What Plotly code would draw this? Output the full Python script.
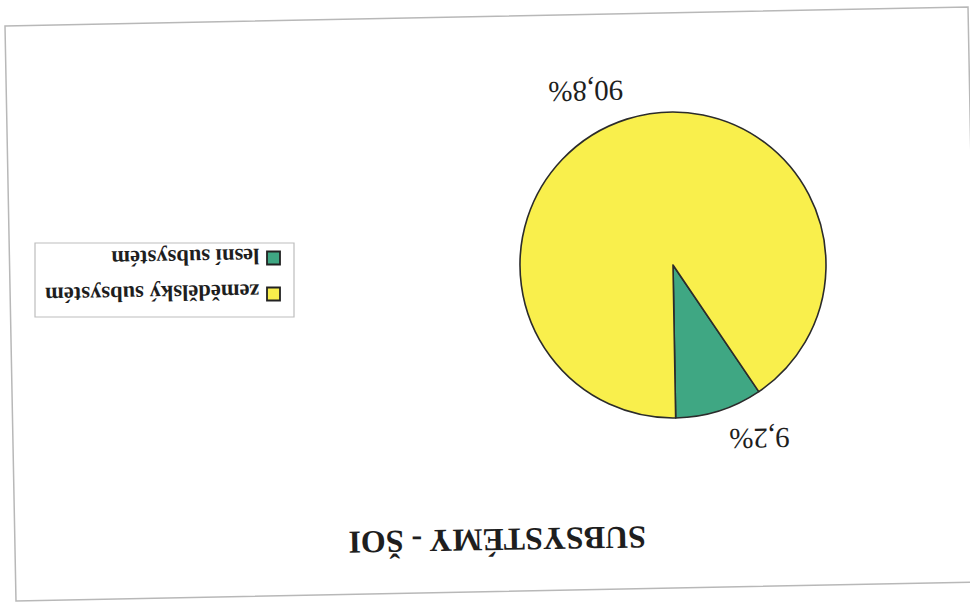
import math
import plotly.graph_objects as go

# Data
categories = ["lesní subsystém", "zemědělský subsystém"]
shares = [9.2, 90.8]
colors = ["#3fa783", "#f9ef4c"]
title_text = "SUBSYSTÉMY - ŠOI"

W, H = 970, 602
SERIF = "Liberation Serif"
INK = "#1e1e1e"


def px(x):
    return x / W


def py(y):
    return 1 - y / H


# Pie geometry (pixels) – whole sheet is printed upside down
cx, cy, R = 673, 265, 153
edge = 179           # clockwise degrees from 12 o'clock where the small slice ends
text_angle = 179     # upside-down text, slightly skewed sheet
total = sum(shares)

fig = go.Figure(
    go.Pie(
        labels=categories,
        values=shares,
        sort=False,
        direction="clockwise",
        rotation=edge - shares[0] / total * 360,
        marker=dict(colors=colors, line=dict(color="#2b2b2b", width=1.6)),
        textinfo="none",
        hoverinfo="label+percent",
        showlegend=False,
        domain=dict(x=[px(cx - R), px(cx + R)], y=[py(cy + R), py(cy - R)]),
    )
)

annotations = []
shapes = []

# Percentage labels placed around the pie from the slice angles
cum = 0.0
for v in shares:
    mid = edge - (cum + v / 2) / total * 360 - 9
    cum += v
    a = math.radians(mid)
    r = 1.27 * R
    lx = cx + r * math.sin(a)
    ly = cy - r * math.cos(a)
    annotations.append(dict(
        x=px(lx), y=py(ly), xref="paper", yref="paper",
        text=f"{v:.1f}%".replace(".", ","), showarrow=False,
        textangle=text_angle, xanchor="center", yanchor="middle",
        font=dict(family=SERIF, size=29, color=INK),
    ))

# Title
annotations.append(dict(
    x=px(497), y=py(540), xref="paper", yref="paper",
    text=f"<b>{title_text}</b>", showarrow=False, textangle=text_angle,
    xanchor="center", yanchor="middle",
    font=dict(family=SERIF, size=32, color=INK),
))

# Hand-drawn legend (rotated with the rest of the sheet)
shapes.append(dict(type="rect", xref="paper", yref="paper",
                   x0=px(35), x1=px(294), y0=py(317), y1=py(243),
                   line=dict(color="#bdbdbd", width=1.2), fillcolor="white"))
rows_y = [258, 294]
for name, col, yy in zip(categories, colors, rows_y):
    shapes.append(dict(type="rect", xref="paper", yref="paper",
                       x0=px(267), x1=px(280), y0=py(yy + 6.5), y1=py(yy - 6.5),
                       line=dict(color="#222222", width=1.8), fillcolor=col))
    annotations.append(dict(
        x=px(262), y=py(yy), xref="paper", yref="paper", text=f"<b>{name}</b>",
        showarrow=False, textangle=text_angle, xanchor="right", yanchor="middle",
        font=dict(family=SERIF, size=22.5, color=INK),
    ))

# Sheet frame, slightly skewed
frame = [(5, 26), (968, 7), (979, 582), (16, 601)]
path = "M " + " L ".join(f"{px(x)},{py(y)}" for x, y in frame) + " Z"
shapes.append(dict(type="path", xref="paper", yref="paper", path=path,
                   line=dict(color="#b8b8b8", width=1.5), layer="below"))

fig.update_layout(
    width=W, height=H,
    margin=dict(l=0, r=0, t=0, b=0),
    paper_bgcolor="white", plot_bgcolor="white",
    annotations=annotations, shapes=shapes,
    showlegend=False,
)

fig.write_html("out.html")
